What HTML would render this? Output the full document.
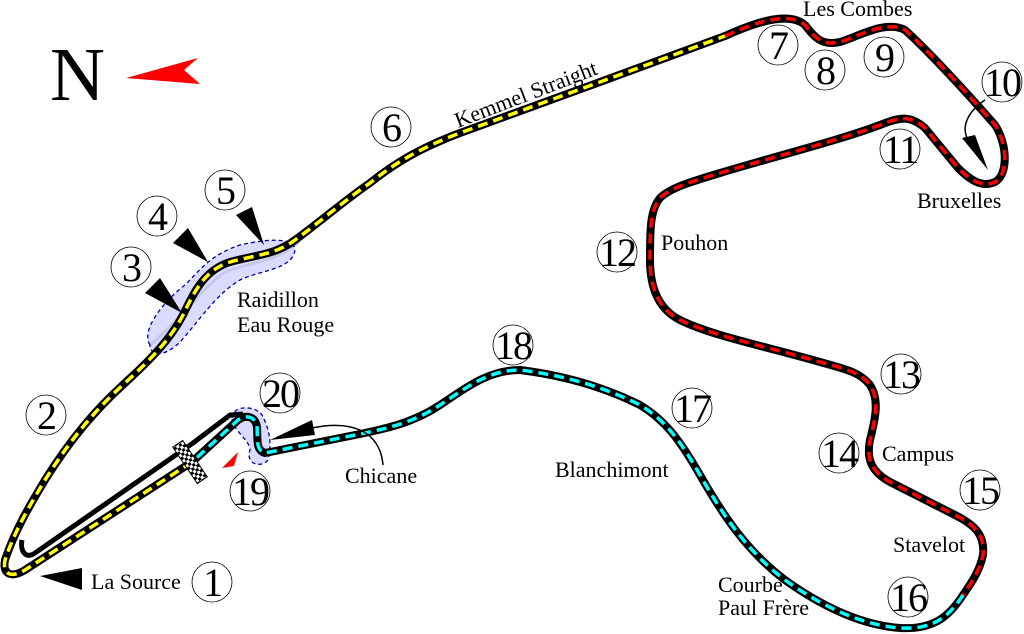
<!DOCTYPE html>
<html><head><style>body{margin:0;background:#fff}svg{display:block}text{font-family:"Liberation Serif",serif;fill:#000}</style></head><body>
<svg width="1024" height="634" viewBox="0 0 1024 634">
<defs>
<pattern id="chk" width="6" height="6" patternUnits="userSpaceOnUse"><rect width="6" height="6" fill="#fff"/><rect width="3" height="3" fill="#000"/><rect x="3" y="3" width="3" height="3" fill="#000"/></pattern>
</defs>
<text x="50" y="100" font-size="76">N</text>
<polygon points="126,78 198,58 184,70 200,84" fill="#f00"/>
<path d="M38,495 C60,450 90,410 135,370 M150,345 C180,320 200,290 225,272 C250,262 280,262 300,240 C330,212 350,200 370,183" fill="none" stroke="#bbb" stroke-width="3"/>
<path d="M150,345 C140,330 165,300 185,285 C200,270 210,255 240,245 C270,238 295,238 295,250 C292,270 260,270 240,280 C215,295 200,320 180,342 C165,357 150,357 150,345Z" fill="#ccf" fill-opacity="0.7" stroke="#00a" stroke-dasharray="4,3" stroke-width="1.3"/>
<path d="M232,418 C232,405 255,405 262,415 C270,430 272,445 268,460 C262,468 245,465 250,450 C250,440 232,430 232,418Z" fill="#ccf" fill-opacity="0.7" stroke="#00a" stroke-dasharray="4,3" stroke-width="1.3"/>
<path d="M243,414 L230,415 L193,443 L35,553 C25,560 20,550 22,540" fill="none" stroke="#000" stroke-width="5"/>
<g fill="none" stroke-linejoin="round">
<g stroke="#000" stroke-width="8" stroke-linecap="round">
<path d="M192,462 L25,570 C12,578 2,575 5,560 C15,530 30,505 45,480 C70,440 95,410 125,383 C150,360 170,340 183,315 C195,290 205,270 230,262 C255,255 275,255 295,240 C320,222 345,200 370,183 C395,163 420,148 460,133 L600,82 L725,36"/>
<path d="M725,36 C760,20 790,12 805,25 C815,38 822,46 840,42 C860,36 885,20 905,30 C925,48 960,85 995,125 C1008,145 1008,175 995,182 C982,188 970,180 958,168 L925,128 C910,115 900,117 880,125 C840,140 780,155 720,173 C690,182 670,188 660,198 C650,210 650,230 650,260 C650,290 660,310 680,320 C710,335 760,345 820,362 C845,369 860,372 870,385 C880,400 875,420 870,440 C866,460 872,472 890,482 L955,515 C975,525 985,535 983,555 C980,570 972,582 963,595"/>
<path d="M963,595 C950,615 935,630 900,628 C860,625 820,605 785,580 C745,550 720,510 700,475 C680,440 665,420 640,405 C600,385 560,375 520,370 C490,370 470,385 440,405 C410,425 380,430 340,438 L265,453 C255,450 258,438 257,427 C255,415 245,415 238,420 L192,462"/>
</g>
<g stroke-width="3.5" stroke-dasharray="10,6">
<path stroke="#ff0" d="M192,462 L25,570 C12,578 2,575 5,560 C15,530 30,505 45,480 C70,440 95,410 125,383 C150,360 170,340 183,315 C195,290 205,270 230,262 C255,255 275,255 295,240 C320,222 345,200 370,183 C395,163 420,148 460,133 L600,82 L725,36"/>
<path stroke="#f00" d="M725,36 C760,20 790,12 805,25 C815,38 822,46 840,42 C860,36 885,20 905,30 C925,48 960,85 995,125 C1008,145 1008,175 995,182 C982,188 970,180 958,168 L925,128 C910,115 900,117 880,125 C840,140 780,155 720,173 C690,182 670,188 660,198 C650,210 650,230 650,260 C650,290 660,310 680,320 C710,335 760,345 820,362 C845,369 860,372 870,385 C880,400 875,420 870,440 C866,460 872,472 890,482 L955,515 C975,525 985,535 983,555 C980,570 972,582 963,595"/>
<path stroke="#0ff" d="M963,595 C950,615 935,630 900,628 C860,625 820,605 785,580 C745,550 720,510 700,475 C680,440 665,420 640,405 C600,385 560,375 520,370 C490,370 470,385 440,405 C410,425 380,430 340,438 L265,453 C255,450 258,438 257,427 C255,415 245,415 238,420 L192,462"/>
</g>
</g>
<g transform="translate(190,462) rotate(56)"><rect x="-22" y="-6" width="44" height="12" fill="url(#chk)" stroke="#000" stroke-width="1"/></g>
<polygon points="222,468 238,452 234,466" fill="#f00"/>
<polygon points="40,576 82,568 82,590" fill="#000"/>
<polygon points="145,293 160,278 182,313" fill="#000"/>
<polygon points="173,243 188,228 208,262" fill="#000"/>
<polygon points="236,215 252,207 264,245" fill="#000"/>
<polygon points="270,440 312,420 315,435" fill="#000"/>
<path d="M312,428 C350,420 380,430 383,465" fill="none" stroke="#000" stroke-width="1.5"/>
<path d="M985,100 C970,110 960,125 968,140" fill="none" stroke="#000" stroke-width="1.5"/>
<polygon points="962,138 975,135 988,170" fill="#000"/>
<g fill="#fff" stroke="#000" stroke-width="0.8">
<circle cx="212" cy="582" r="20"/><circle cx="46" cy="415" r="20"/><circle cx="131" cy="267" r="20"/><circle cx="157" cy="216" r="20"/><circle cx="225" cy="190" r="20"/><circle cx="391" cy="127" r="20"/><circle cx="778" cy="45" r="20"/><circle cx="825" cy="70" r="20"/><circle cx="884" cy="57" r="20"/><circle cx="1002" cy="82" r="20"/><circle cx="900" cy="149" r="20"/><circle cx="617" cy="252" r="20"/><circle cx="901" cy="374" r="20"/><circle cx="839" cy="453" r="20"/><circle cx="980" cy="490" r="20"/><circle cx="908" cy="597" r="20"/><circle cx="692" cy="408" r="20"/><circle cx="513" cy="345" r="20"/><circle cx="250" cy="491" r="20"/><circle cx="280" cy="393" r="20"/>
</g>
<g font-size="40" text-anchor="middle" letter-spacing="-2">
<text x="212" y="596">1</text><text x="46" y="429">2</text><text x="131" y="281">3</text><text x="157" y="230">4</text><text x="225" y="204">5</text><text x="391" y="141">6</text><text x="778" y="59">7</text><text x="825" y="84">8</text><text x="884" y="71">9</text><text x="1002" y="96">10</text><text x="900" y="163">11</text><text x="617" y="266">12</text><text x="901" y="388">13</text><text x="839" y="467">14</text><text x="980" y="504">15</text><text x="908" y="611">16</text><text x="692" y="422">17</text><text x="513" y="359">18</text><text x="250" y="505">19</text><text x="280" y="407">20</text>
</g>
<g font-size="22">
<text x="91" y="589">La Source</text>
<text x="237" y="307">Raidillon</text><text x="237" y="332">Eau Rouge</text>
<text x="458" y="128" transform="rotate(-21 458 128)">Kemmel Straight</text>
<text x="803" y="16">Les Combes</text>
<text x="917" y="208">Bruxelles</text>
<text x="661" y="250">Pouhon</text>
<text x="882" y="461">Campus</text>
<text x="893" y="552">Stavelot</text>
<text x="718" y="592">Courbe</text><text x="718" y="615">Paul Frère</text>
<text x="555" y="477">Blanchimont</text>
<text x="345" y="483">Chicane</text>
</g>
</svg>
</body></html>
